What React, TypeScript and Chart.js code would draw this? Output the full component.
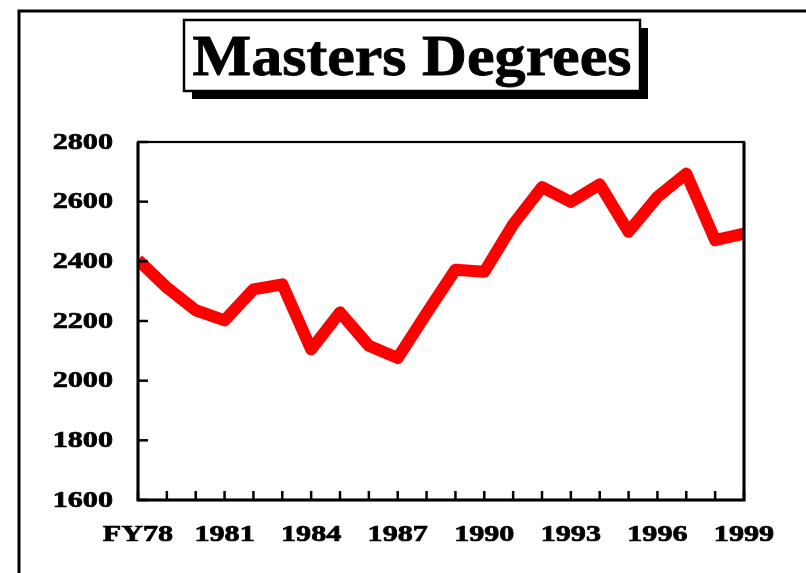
import React, { useEffect, useRef } from "react";
import { Chart, registerables } from "chart.js";

Chart.register(...registerables);

const categories = [
  "FY78", "1979", "1980", "1981", "1982", "1983", "1984", "1985", "1986", "1987", "1988",
  "1989", "1990", "1991", "1992", "1993", "1994", "1995", "1996", "1997", "1998", "1999",
];
const mastersDegrees = [
  2405, 2312, 2236, 2202, 2306, 2323, 2105, 2229, 2117, 2076, 2226,
  2372, 2365, 2524, 2649, 2599, 2658, 2499, 2616, 2694, 2471, 2493,
];
const yMin = 1600;
const yMax = 2800;
const yStep = 200;
const xLabelEvery = 3;
const titleText = "Masters Degrees";

const FONT = '"Liberation Serif", "Times New Roman", serif';

function drawLabel(ctx: any, text: string, x: number, y: number, align: string) {
  ctx.save();
  ctx.translate(x, y);
  ctx.scale(1.34, 1);
  ctx.font = "bold 22.5px " + FONT;
  ctx.textAlign = align;
  ctx.textBaseline = "middle";
  ctx.lineWidth = 0.7;
  ctx.fillText(text, 0, 0);
  ctx.strokeText(text, 0, 0);
  ctx.restore();
}

const decoPlugin = {
  id: "deco",
  afterDraw(chart: any) {
    const { ctx, chartArea, scales } = chart;
    const { left, top, right, bottom } = chartArea;
    const x = scales.x;
    const y = scales.y;
    ctx.save();
    ctx.strokeStyle = "#000";
    ctx.fillStyle = "#000";

    // outer frame
    ctx.lineWidth = 3;
    ctx.strokeRect(19, 11, 900, 700);

    // title box with shadow
    ctx.fillStyle = "#000";
    ctx.fillRect(192, 28, 456, 71);
    ctx.fillStyle = "#fff";
    ctx.fillRect(184, 20, 456, 71);
    ctx.lineWidth = 2.5;
    ctx.strokeRect(184, 20, 456, 71);

    ctx.fillStyle = "#000";
    ctx.save();
    ctx.translate(412, 75);
    ctx.scale(1.11, 1);
    ctx.font = "bold 56px " + FONT;
    ctx.textAlign = "center";
    ctx.textBaseline = "alphabetic";
    ctx.lineWidth = 0.8;
    ctx.fillText(titleText, 0, 0);
    ctx.strokeText(titleText, 0, 0);
    ctx.restore();

    // plot border
    ctx.lineWidth = 2.2;
    ctx.strokeRect(left, top, right - left, bottom - top);
    ctx.lineWidth = 3;
    ctx.beginPath();
    ctx.moveTo(left, top);
    ctx.lineTo(left, bottom);
    ctx.lineTo(right, bottom);
    ctx.lineTo(right, top);
    ctx.stroke();

    // y ticks & labels
    y.ticks.forEach((t: any) => {
      const py = y.getPixelForValue(t.value);
      ctx.lineWidth = 2.5;
      ctx.beginPath();
      ctx.moveTo(left, py);
      ctx.lineTo(left + 10, py);
      ctx.stroke();
      drawLabel(ctx, String(t.value), 113, py + 1, "right");
    });

    // x ticks & labels
    x.ticks.forEach((t: any, i: number) => {
      const px = x.getPixelForTick(i);
      ctx.lineWidth = 2.5;
      ctx.beginPath();
      ctx.moveTo(px, bottom);
      ctx.lineTo(px, bottom - 9);
      ctx.stroke();
      if (i % xLabelEvery === 0) {
        drawLabel(ctx, categories[i], px, 535, "center");
      }
    });
    ctx.restore();
  },
};

export default function App() {
  const ref = useRef<HTMLCanvasElement | null>(null);
  useEffect(() => {
    if (!ref.current) return;
    const chart = new Chart(ref.current, {
      type: "line",
      data: {
        labels: categories,
        datasets: [
          {
            data: mastersDegrees,
            borderColor: "#ff0000",
            backgroundColor: "#ff0000",
            borderWidth: 12,
            pointRadius: 0,
            tension: 0,
            borderJoinStyle: "round",
            borderCapStyle: "butt",
            clip: 0,
          } as any,
        ],
      },
      options: {
        responsive: false,
        animation: false,
        events: [],
        layout: { padding: { left: 138, top: 142, right: 62, bottom: 73 } },
        plugins: { legend: { display: false }, tooltip: { enabled: false }, title: { display: false } },
        scales: {
          x: {
            type: "category",
            offset: false,
            grid: { display: false, drawTicks: false },
            border: { display: false },
            ticks: { display: false, autoSkip: false },
          },
          y: {
            min: yMin,
            max: yMax,
            grid: { display: false, drawTicks: false },
            border: { display: false },
            ticks: { display: false, stepSize: yStep },
          },
        },
      },
      plugins: [decoPlugin],
    });
    return () => chart.destroy();
  }, []);
  return (
    <div style={{ position: "fixed", left: 0, top: 0, width: 806, height: 573, background: "#fff" }}>
      <canvas ref={ref} width={806} height={573} />
    </div>
  );
}
